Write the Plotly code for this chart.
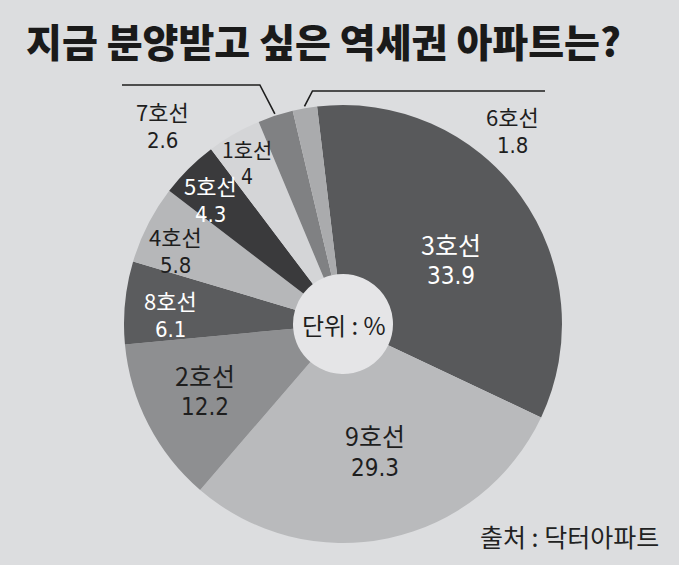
import math
import plotly.graph_objects as go

# ---- data ----
lines = ["3호선", "9호선", "2호선", "8호선", "4호선", "5호선", "1호선", "7호선", "6호선"]
shares = [33.9, 29.3, 12.2, 6.1, 5.8, 4.3, 4, 2.6, 1.8]
value_labels = ["33.9", "29.3", "12.2", "6.1", "5.8", "4.3", "4", "2.6", "1.8"]

# ---- styles ----
colors = ["#58595b", "#b9babc", "#8e8f91", "#5b5c5e", "#b6b7b9",
          "#3a3a3c", "#d4d5d7", "#808183", "#aaabad"]
text_colors = ["white", "#1e1e1e", "#1e1e1e", "white", "#1e1e1e",
               "white", "#1e1e1e", "#1e1e1e", "#1e1e1e"]
label_r = [0.575, 0.60, 0.70, 0.79, 0.835, 0.83, 0.855, None, None]
label_da = [5.2, -2.0, 1.4, -2.6, -3.5, -2.2, -1.0, 0, 0]
name_size = [25, 25, 25, 22, 22, 22, 21, 22, 22]
value_size = [24, 24, 24, 22, 22, 22, 21, 22, 22]

W, H = 679, 565
CX, CY, R = 343, 324, 219
HOLE_R = 50
ROT = -6.8
BG = "#dcdddf"
FONT = "Noto Sans CJK KR"
NUM_FONT = "DejaVu Sans Condensed"


def px2paper(x, y):
    return x / W, 1 - y / H


fig = go.Figure()
x0, y1 = px2paper(CX - R, CY - R)
x1, y0 = px2paper(CX + R, CY + R)
fig.add_trace(go.Pie(
    labels=lines, values=shares, sort=False, direction="clockwise",
    rotation=ROT, hole=HOLE_R / R, textinfo="none", hoverinfo="label+value",
    marker=dict(colors=colors, line=dict(width=0)),
    domain=dict(x=[x0, x1], y=[y0, y1]), showlegend=False,
))

annotations = []
shapes = []

# lighter centre disc
hx0, hy1 = px2paper(CX - HOLE_R, CY - HOLE_R)
hx1, hy0 = px2paper(CX + HOLE_R, CY + HOLE_R)
shapes.append(dict(type="circle", xref="paper", yref="paper", layer="below",
                   x0=hx0, x1=hx1, y0=hy0, y1=hy1,
                   fillcolor="#e5e5e7", line=dict(width=0)))

total = sum(shares)
cum = 0.0
mids = []
for v in shares:
    a0 = ROT + cum / total * 360
    cum += v
    a1 = ROT + cum / total * 360
    mids.append((a0 + a1) / 2)


def add_label(i, cx_px, cy_px):
    ns, vs = name_size[i], value_size[i]
    gap = 0.724 * ns + 0.582 * vs + 0.6
    ax, ay = px2paper(cx_px, cy_px - gap / 2)
    annotations.append(dict(
        x=ax, y=ay, xref="paper", yref="paper", showarrow=False, text=lines[i],
        font=dict(family=FONT, size=ns, color=text_colors[i]),
        xanchor="center", yanchor="middle", borderpad=0))
    ax, ay = px2paper(cx_px, cy_px + gap / 2)
    annotations.append(dict(
        x=ax, y=ay, xref="paper", yref="paper", showarrow=False, text=value_labels[i],
        font=dict(family=NUM_FONT, size=vs, color=text_colors[i]),
        xanchor="center", yanchor="middle", borderpad=0))


for i in range(len(lines)):
    if label_r[i] is not None:
        ang = math.radians(mids[i] + label_da[i])
        r = label_r[i] * R
        add_label(i, CX + r * math.sin(ang), CY - r * math.cos(ang))

# leader lines for the two thin slices
leaders = {7: dict(elbow_dx=-15, elbow_y=85, end_x=122, text_x=162, text_y=126),
           8: dict(elbow_dx=8, elbow_y=91, end_x=545, text_x=512, text_y=131)}
for i, cfg in leaders.items():
    ang = math.radians(mids[i])
    sx = CX + (R + 2) * math.sin(ang)
    sy = CY - (R + 2) * math.cos(ang)
    ex, ey = sx + cfg["elbow_dx"], cfg["elbow_y"]
    pts = [(sx, sy), (ex, ey), (cfg["end_x"], ey)]
    pp = [px2paper(*p) for p in pts]
    path = "M {} {} L {} {} L {} {}".format(pp[0][0], pp[0][1], pp[1][0], pp[1][1], pp[2][0], pp[2][1])
    shapes.append(dict(type="path", xref="paper", yref="paper", path=path,
                       line=dict(color="#1e1e1e", width=1.6)))
    add_label(i, cfg["text_x"], cfg["text_y"])

# centre unit text
ux, uy = px2paper(CX + 1, CY)
annotations.append(dict(x=ux, y=uy, xref="paper", yref="paper", showarrow=False,
                        text="단위 : %", font=dict(family=FONT, size=24, color="#1e1e1e"),
                        xanchor="center", yanchor="middle"))

# title
tx, ty = px2paper(24, 40)
annotations.append(dict(x=tx, y=ty, xref="paper", yref="paper", showarrow=False,
                        text="지금 분양받고 싶은 역세권 아파트는?",
                        font=dict(family=FONT, size=39, color="#1a1a1a", weight=900),
                        xanchor="left", yanchor="middle"))

# source
sx_, sy_ = px2paper(661, 536)
annotations.append(dict(x=sx_, y=sy_, xref="paper", yref="paper", showarrow=False,
                        text="출처 : 닥터아파트",
                        font=dict(family=FONT, size=25, color="#222222"),
                        xanchor="right", yanchor="middle"))

fig.update_layout(
    width=W, height=H, margin=dict(l=0, r=0, t=0, b=0),
    paper_bgcolor=BG, plot_bgcolor=BG,
    annotations=annotations, shapes=shapes,
)
fig.write_html("out.html", config={"displayModeBar": False},
               post_script="document.body.style.margin='0';document.body.style.overflow='hidden';")
